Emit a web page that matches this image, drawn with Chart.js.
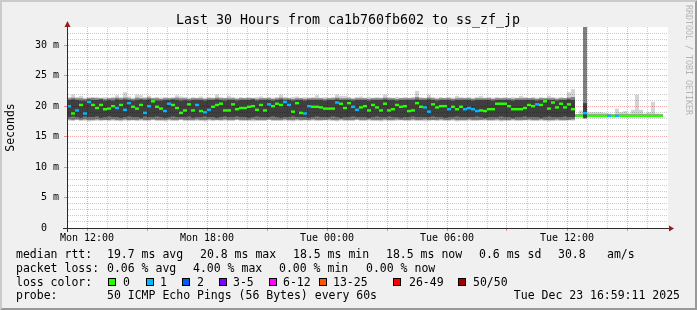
<!DOCTYPE html>
<html>
<head>
<meta charset="utf-8">
<title>Smokeping - ss_zf_jp</title>
<script src="https://cdn.jsdelivr.net/npm/chart.js@4.4.1/dist/chart.umd.min.js"></script>
<style>
  html, body { margin: 0; padding: 0; background: #f0f0f0; }
  #grafico { display: block; }
</style>
</head>
<body>
<canvas id="grafico" width="697" height="310"></canvas>
<script>
// 30 hours, one step = 12 min, hour 0 = Mon 11:00
const stepHours = 0.2;

// median rtt per step (ms)
const median = [
  20.0,18.8,19.3,20.2,18.8,20.7,20.2,19.7,20.2,19.5,
  19.6,20.0,19.7,20.2,19.4,20.5,19.9,19.6,20.2,18.9,
  20.0,20.8,19.9,19.6,19.2,20.4,20.2,19.7,18.9,19.3,
  20.3,19.3,20.2,19.2,19.0,19.4,19.9,20.2,20.4,19.3,
  19.3,20.3,19.5,19.7,19.7,19.9,20.0,19.4,20.2,19.3,
  20.3,20.0,20.4,20.2,20.7,20.2,19.1,20.5,18.9,18.8,
  20.0,19.9,19.9,19.8,19.6,19.6,19.6,20.6,20.4,19.7,
  20.5,19.9,19.4,19.8,20.0,19.3,20.2,19.8,19.3,20.4,
  19.3,19.5,20.2,19.9,20.0,19.2,19.3,20.5,19.9,19.8,
  19.1,20.3,19.8,20.0,20.0,19.5,19.9,19.5,19.9,19.5,
  19.7,19.5,19.2,19.3,19.2,19.5,19.5,20.4,20.4,20.4,
  20.0,19.5,19.5,19.5,19.7,20.2,20.0,20.3,20.2,20.8,
  19.6,20.6,19.8,20.4,19.8,20.3,19.5,
  18.4,18.4,18.85,18.4,18.4,18.4,18.4,18.4,18.4,18.4,
  18.4,18.4,18.4,18.4,18.4,18.4,18.4,18.4,18.4,18.4,
  18.4,18.4
];

// lost pings per step (index into lossColors)
const loss = [
  1,0,1,0,1,1,0,0,0,0,
  0,0,1,0,1,1,0,0,0,1,
  1,0,0,0,1,1,0,0,0,0,
  0,0,1,0,1,1,0,0,0,0,
  0,0,0,0,0,0,0,0,0,0,
  1,0,0,0,1,1,0,0,0,1,
  1,0,0,0,0,0,0,1,0,0,
  0,1,1,0,0,0,0,0,0,0,
  0,0,0,0,0,0,0,0,0,1,
  1,0,0,0,0,1,0,0,0,1,
  1,1,1,0,0,0,0,0,0,0,
  0,0,0,0,0,0,0,1,0,0,
  0,0,0,0,0,0,0,
  0,0,1,0,0,0,0,0,1,0,
  1,0,0,0,0,0,0,0,0,0,
  0,0
];

// smoke: ping spread per step (ms)
const pingMax = [
  21.5,21.9,21.5,21.7,21.4,21.5,21.4,21.5,21.4,21.5,
  21.4,21.5,21.8,21.5,22.3,21.6,21.4,21.9,21.8,21.5,
  21.7,21.4,21.5,21.4,21.5,21.4,21.5,21.8,21.6,21.5,
  21.4,21.5,21.4,21.6,21.4,21.5,21.4,21.9,21.5,21.4,
  21.7,21.5,21.4,21.5,21.4,21.5,21.4,21.5,21.6,21.4,
  21.5,21.4,21.5,21.9,21.5,21.4,21.5,21.6,21.4,21.5,
  21.4,21.5,21.8,21.4,21.5,21.4,21.5,21.9,21.7,21.7,
  21.5,21.4,21.5,21.6,21.4,21.5,21.4,21.5,21.4,21.9,
  21.5,21.4,21.5,21.4,21.5,21.4,21.5,22.5,21.5,21.4,
  21.9,21.5,21.4,21.5,21.4,21.5,21.4,21.7,21.5,21.4,
  21.5,21.4,21.5,21.7,21.4,21.5,21.4,21.5,21.4,21.5,
  21.4,21.5,21.4,21.7,21.5,21.4,21.5,21.4,21.5,21.4,
  21.7,21.5,21.4,21.5,21.4,22.3,22.8,
  18.7,19.3,33.0,19.0,19.0,19.0,19.0,18.9,18.8,18.7,
  19.6,19.0,19.2,18.8,19.4,21.9,19.4,18.8,19.0,20.7,
  18.8,18.7
];
const p90 = [
  21.3,21.4,21.3,21.3,21.2,21.3,21.4,21.3,21.3,21.2,
  21.3,21.3,21.4,21.3,21.4,21.3,21.2,21.4,21.3,21.3,
  21.4,21.3,21.3,21.2,21.3,21.3,21.3,21.4,21.3,21.3,
  21.2,21.3,21.3,21.3,21.2,21.3,21.3,21.4,21.3,21.3,
  21.3,21.3,21.2,21.3,21.3,21.3,21.3,21.2,21.3,21.3,
  21.3,21.2,21.3,21.4,21.3,21.3,21.2,21.3,21.3,21.2,
  21.3,21.3,21.3,21.3,21.2,21.3,21.3,21.4,21.3,21.3,
  21.3,21.2,21.3,21.3,21.3,21.2,21.3,21.3,21.3,21.4,
  21.3,21.3,21.2,21.3,21.3,21.3,21.3,21.5,21.3,21.3,
  21.4,21.3,21.2,21.3,21.3,21.3,21.2,21.3,21.3,21.3,
  21.3,21.2,21.3,21.3,21.3,21.3,21.2,21.3,21.3,21.3,
  21.3,21.2,21.3,21.3,21.3,21.3,21.3,21.2,21.3,21.3,
  21.3,21.3,21.2,21.3,21.3,21.4,21.5,
  18.6,18.6,33.0,18.6,18.6,18.6,18.6,18.6,18.6,18.6,
  18.6,18.6,18.6,18.6,18.6,18.6,18.6,18.6,18.6,18.6,
  18.6,18.6
];
const p75 = [
  21.0,21.1,21.0,20.9,20.9,21.1,21.0,21.0,21.1,20.9,
  21.0,20.9,21.1,21.0,21.1,21.0,20.9,21.0,21.1,21.0,
  21.1,21.0,20.9,20.9,21.0,21.0,21.1,21.0,20.9,21.0,
  20.9,21.0,21.0,21.0,20.9,21.0,21.0,21.1,21.0,20.9,
  21.0,21.0,20.9,21.0,21.0,21.0,21.1,20.9,21.0,21.0,
  21.0,20.9,21.0,21.1,21.0,21.0,20.9,21.0,21.0,20.9,
  21.0,21.0,21.0,21.0,20.9,21.0,21.0,21.1,21.0,21.0,
  21.0,20.9,21.0,21.0,21.0,20.9,21.0,21.0,21.0,21.1,
  21.0,21.0,20.9,21.0,21.0,21.0,21.0,21.1,21.0,21.0,
  21.1,21.0,20.9,21.0,21.0,21.0,20.9,21.0,21.0,21.0,
  21.0,20.9,21.0,21.0,21.0,21.0,20.9,21.0,21.0,21.0,
  21.0,20.9,21.0,21.0,21.0,21.0,21.0,20.9,21.0,21.0,
  21.0,21.0,20.9,21.0,21.0,21.1,21.0,
  18.6,18.6,20.5,18.6,18.6,18.6,18.6,18.6,18.6,18.6,
  18.6,18.6,18.6,18.6,18.6,18.6,18.6,18.6,18.6,18.6,
  18.6,18.6
];
const p25 = [
  18.2,18.3,18.2,18.1,18.3,18.2,18.2,18.3,18.1,18.2,
  18.3,18.2,18.2,18.1,18.2,18.3,18.2,18.2,18.1,18.3,
  18.2,18.2,18.3,18.2,18.1,18.2,18.3,18.2,18.2,18.2,
  18.3,18.1,18.2,18.2,18.3,18.2,18.2,18.1,18.2,18.3,
  18.2,18.2,18.3,18.2,18.2,18.1,18.2,18.3,18.2,18.2,
  18.2,18.3,18.2,18.1,18.2,18.2,18.3,18.2,18.2,18.2,
  18.1,18.2,18.3,18.2,18.2,18.2,18.3,18.2,18.1,18.2,
  18.2,18.3,18.2,18.2,18.2,18.1,18.2,18.3,18.2,18.2,
  18.3,18.2,18.2,18.1,18.2,18.2,18.3,18.2,18.2,18.2,
  18.2,18.3,18.2,18.2,18.1,18.2,18.2,18.3,18.2,18.2,
  18.2,18.2,18.3,18.2,18.1,18.2,18.2,18.2,18.3,18.2,
  18.2,18.1,18.2,18.2,18.3,18.2,18.2,18.2,18.1,18.2,
  18.3,18.2,18.2,18.2,18.3,18.2,18.2,
  18.4,18.4,18.1,18.4,18.4,18.4,18.4,18.4,18.4,18.4,
  18.4,18.4,18.4,18.4,18.4,18.4,18.4,18.4,18.4,18.4,
  18.4,18.4
];
const p10 = [
  17.8,17.7,17.8,17.7,17.8,17.7,17.7,17.8,17.7,17.7,
  17.7,17.8,17.7,17.7,17.8,17.7,17.7,17.7,17.8,17.7,
  17.7,17.8,17.7,17.7,17.7,17.8,17.7,17.7,17.8,17.7,
  17.7,17.7,17.8,17.7,17.7,17.8,17.7,17.7,17.7,17.8,
  17.7,17.7,17.8,17.7,17.7,17.7,17.8,17.7,17.7,17.7,
  17.8,17.7,17.7,17.7,17.8,17.7,17.7,17.8,17.7,17.7,
  17.7,17.8,17.7,17.7,17.7,17.8,17.7,17.7,17.8,17.7,
  17.7,17.7,17.8,17.7,17.7,17.8,17.7,17.7,17.7,17.8,
  17.7,17.7,17.8,17.7,17.7,17.7,17.8,17.7,17.7,17.8,
  17.7,17.7,17.7,17.8,17.7,17.7,17.8,17.7,17.7,17.7,
  17.8,17.7,17.7,17.7,17.8,17.7,17.7,17.8,17.7,17.7,
  17.7,17.8,17.7,17.7,17.7,17.8,17.7,17.7,17.8,17.7,
  17.7,17.7,17.8,17.7,17.7,17.7,17.8,
  18.4,18.4,18.0,18.4,18.4,18.4,18.4,18.4,18.4,18.4,
  18.4,18.4,18.4,18.4,18.4,18.4,18.4,18.4,18.4,18.4,
  18.4,18.4
];
const pingMin = [
  17.6,17.6,17.7,17.6,17.6,17.5,17.6,17.6,17.6,17.7,
  17.6,17.6,17.6,17.5,17.6,17.6,17.7,17.6,17.6,17.6,
  17.6,17.7,17.6,17.6,17.5,17.6,17.6,17.6,17.7,17.6,
  17.6,17.6,17.6,17.6,17.5,17.6,17.6,17.7,17.6,17.6,
  17.6,17.6,17.7,17.6,17.6,17.6,17.5,17.6,17.6,17.6,
  17.7,17.6,17.6,17.6,17.6,17.6,17.5,17.6,17.6,17.7,
  17.6,17.6,17.6,17.6,17.7,17.6,17.6,17.5,17.6,17.6,
  17.6,17.6,17.7,17.6,17.6,17.6,17.6,17.6,17.5,17.6,
  17.6,17.6,17.6,17.7,17.6,17.6,17.6,17.6,17.6,17.5,
  17.6,17.7,17.6,17.6,17.6,17.6,17.6,17.5,17.6,17.6,
  17.6,17.6,17.6,17.7,17.6,17.6,17.6,17.6,17.5,17.6,
  17.6,17.6,17.6,17.6,17.7,17.6,17.6,17.6,17.6,17.6,
  17.5,17.6,17.6,17.6,17.6,17.7,17.6,
  18.3,18.3,17.9,18.3,18.3,18.3,18.3,18.3,18.3,18.3,
  18.3,18.3,18.3,18.3,18.3,18.3,18.3,18.3,18.3,18.3,
  18.3,18.3
];

// axis labels
const tickHours = [1, 7, 13, 19, 25];
const tickLabels = ["Mon 12:00", "Mon 18:00", "Tue 00:00", "Tue 06:00", "Tue 12:00"];

// legend texts
const titulo = "Last 30 Hours from ca1b760fb602 to ss_zf_jp";
const rttLine = ["median rtt:", "19.7 ms avg", "20.8 ms max", "18.5 ms min", "18.5 ms now", "0.6 ms sd", "30.8", "am/s"];
const lossLine = ["packet loss:", "0.06 % avg", "4.00 % max", "0.00 % min", "0.00 % now"];
const lossLabels = ["0", "1", "2", "3-5", "6-12", "13-25", "26-49", "50/50"];
const lossColors = ["#26ff00", "#00b8ff", "#0059ff", "#7e00ff", "#ff00ff", "#ff5500", "#ff0000", "#a10000"];
const probeLine = ["probe:", "50 ICMP Echo Pings (56 Bytes) every 60s"];
const stamp = "Tue Dec 23 16:59:11 2025";
const watermark = "RRDTOOL / TOBI OETIKER";

const mono = "'DejaVu Sans Mono', monospace";
const axisColor = "#2b2b2b";
const arrowColor = "#9a1c1c";

function faixa(lo, hi) {
    return lo.map((v, k) => ({ x: k * stepHours + stepHours / 2, y: [v, hi[k]] }));
}

// fundo, moldura, textos e setas
const rrdPlugin = {
    id: "rrd",
    beforeDraw(chart) {
        const c = chart.ctx, a = chart.chartArea;
        c.save();
        c.fillStyle = "#f0f0f0";
        c.fillRect(0, 0, 697, 310);
        c.fillStyle = "#cbcbcb";
        c.beginPath();
        c.moveTo(0, 310); c.lineTo(2, 308); c.lineTo(2, 2); c.lineTo(695, 2); c.lineTo(697, 0); c.lineTo(0, 0);
        c.closePath(); c.fill();
        c.fillStyle = "#999999";
        c.beginPath();
        c.moveTo(2, 308); c.lineTo(695, 308); c.lineTo(695, 2); c.lineTo(697, 0); c.lineTo(697, 310); c.lineTo(0, 310);
        c.closePath(); c.fill();
        c.fillStyle = "#ffffff";
        c.fillRect(a.left, a.top, a.right - a.left + 1, a.bottom - a.top);
        c.restore();
    },
    afterDraw(chart) {
        const c = chart.ctx, a = chart.chartArea;
        c.save();
        // axis extensions + arrows
        c.strokeStyle = axisColor;
        c.lineWidth = 1;
        c.beginPath();
        c.moveTo(a.left - 4, a.bottom + 0.5); c.lineTo(a.right + 3, a.bottom + 0.5);
        c.moveTo(a.left + 0.5, a.top - 4); c.lineTo(a.left + 0.5, a.bottom + 4);
        c.stroke();
        c.fillStyle = arrowColor;
        c.beginPath();
        c.moveTo(a.left + 0.5, a.top - 6); c.lineTo(a.left - 2.5, a.top); c.lineTo(a.left + 3.5, a.top);
        c.closePath(); c.fill();
        c.beginPath();
        c.moveTo(a.right + 7, a.bottom + 0.5); c.lineTo(a.right + 2, a.bottom - 2.5); c.lineTo(a.right + 2, a.bottom + 3.5);
        c.closePath(); c.fill();

        // title
        c.fillStyle = "#000";
        c.font = "13.3px " + mono;
        c.textAlign = "center";
        c.textBaseline = "alphabetic";
        c.fillText(titulo, 348, 24);

        // legend
        c.textAlign = "left";
        c.font = "11.5px " + mono;
        const rttX = [16, 107, 200, 293, 386, 479, 558, 607];
        rttLine.forEach((t, i) => c.fillText(t, rttX[i], 258));
        const lossX = [16, 107, 193, 279, 366];
        lossLine.forEach((t, i) => c.fillText(t, lossX[i], 272));
        c.fillText("loss color:", 16, 285.7);
        const boxX = [108, 146, 182, 219, 269, 319, 393, 458];
        const labX = [123, 160, 197, 233, 283, 333, 409, 473];
        lossLabels.forEach((t, i) => {
            c.fillStyle = "#000";
            c.fillRect(boxX[i], 278, 8, 8);
            c.fillStyle = lossColors[i];
            c.fillRect(boxX[i] + 1, 279, 6, 6);
            c.fillStyle = "#000";
            c.fillText(t, labX[i], 285.7);
        });
        c.fillText(probeLine[0], 16, 299.3);
        c.fillText(probeLine[1], 107, 299.3);
        c.textAlign = "right";
        c.fillText(stamp, 680, 299.3);

        // watermark
        c.fillStyle = "#b4b4b4";
        c.font = "8.3px " + mono;
        c.textAlign = "left";
        c.textBaseline = "middle";
        c.translate(688, 5);
        c.rotate(Math.PI / 2);
        c.fillText(watermark, 0, 0);
        c.restore();
    }
};

document.addEventListener("DOMContentLoaded", function () {
    const ctx = document.getElementById("grafico").getContext("2d");

    const medianBars = median.map((m, k) => ({ x: k * stepHours + stepHours / 2, y: [m - 0.2, m + 0.2] }));

    let grafico = new Chart(ctx, {
        type: "bar",
        data: {
            datasets: [
                { label: "median", data: medianBars, backgroundColor: loss.map(l => lossColors[l]), order: 0 },
                { label: "p25-p75", data: faixa(p25, p75), backgroundColor: "rgba(0,0,0,0.5)", order: 1 },
                { label: "p10-p90", data: faixa(p10, p90), backgroundColor: "rgba(0,0,0,0.4)", order: 2 },
                { label: "min-max", data: faixa(pingMin, pingMax), backgroundColor: "rgba(0,0,0,0.17)", order: 3 }
            ]
        },
        options: {
            responsive: false,
            devicePixelRatio: 1,
            animation: false,
            events: [],
            layout: { padding: { left: 0, top: 27, right: 30, bottom: 62 } },
            datasets: {
                bar: { grouped: false, barPercentage: 1, categoryPercentage: 1, inflateAmount: 0, borderWidth: 0, clip: 0 }
            },
            plugins: {
                legend: { display: false },
                tooltip: { enabled: false },
                title: { display: false }
            },
            scales: {
                x: {
                    type: "linear",
                    min: 0,
                    max: 30,
                    offset: false,
                    grid: {
                        offset: false,
                        lineWidth: 1,
                        tickLength: 3,
                        color: function (c) {
                            const v = c.tick.value;
                            if (v === 0 || v === 30) return "rgba(0,0,0,0)";
                            return (v - 1) % 3 === 0 ? "rgba(235,70,70,0.45)" : "rgba(140,140,140,0.45)";
                        },
                        tickColor: function (c) {
                            return (c.tick.value - 1) % 3 === 0 ? "rgba(235,70,70,0.6)" : "rgba(0,0,0,0)";
                        }
                    },
                    border: { display: true, color: axisColor, dash: [1, 1] },
                    ticks: {
                        stepSize: 1,
                        maxTicksLimit: 100,
                        autoSkip: false,
                        maxRotation: 0,
                        minRotation: 0,
                        padding: 1,
                        color: "#000",
                        font: { family: "DejaVu Sans Mono", size: 10 },
                        callback: function (v) {
                            const i = tickHours.indexOf(v);
                            return i >= 0 ? tickLabels[i] : "";
                        }
                    },
                    afterFit: function (s) { s.height = 20; }
                },
                y: {
                    type: "linear",
                    min: 0,
                    max: 33,
                    grid: {
                        lineWidth: 1,
                        tickLength: 3,
                        color: function (c) {
                            const v = c.tick.value;
                            if (v === 0 || v === 33) return "rgba(0,0,0,0)";
                            return v % 5 === 0 ? "rgba(235,70,70,0.45)" : "rgba(140,140,140,0.45)";
                        },
                        tickColor: function (c) {
                            return c.tick.value % 5 === 0 ? "rgba(235,70,70,0.6)" : "rgba(0,0,0,0)";
                        }
                    },
                    border: { display: true, color: axisColor, dash: [1, 1] },
                    title: {
                        display: true,
                        text: "Seconds",
                        color: "#000",
                        font: { family: "DejaVu Sans Mono", size: 11.5 },
                        padding: { top: 4, bottom: 0 }
                    },
                    ticks: {
                        stepSize: 1,
                        maxTicksLimit: 100,
                        autoSkip: false,
                        padding: 5,
                        color: "#000",
                        font: { family: "DejaVu Sans Mono", size: 10 },
                        callback: function (v) {
                            if (v % 5 !== 0) return "";
                            return v === 0 ? "0  " : v + " m";
                        }
                    },
                    afterFit: function (s) { s.width = 67; }
                }
            }
        },
        plugins: [rrdPlugin]
    });
});
</script>
</body>
</html>
